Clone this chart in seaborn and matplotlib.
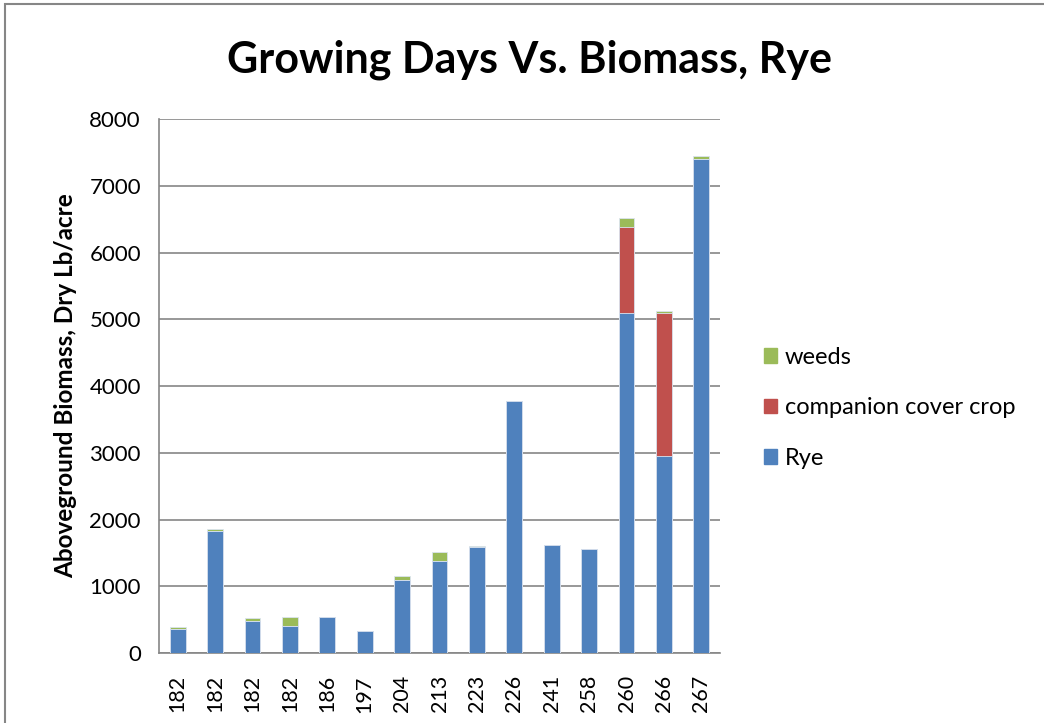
import numpy as np
import pandas as pd
import seaborn as sns
import matplotlib.pyplot as plt
from matplotlib.patches import Patch, Rectangle

days = ["182", "182", "182", "182", "186", "197", "204", "213", "223",
        "226", "241", "258", "260", "266", "267"]
rye = [360, 1833, 479, 409, 534, 334, 1099, 1373, 1588,
       3775, 1618, 1553, 5098, 2951, 7405]
cover = [0, 0, 0, 0, 0, 0, 0, 0, 0, 0, 0, 0, 1284, 2147, 0]
weeds = [25, 20, 45, 135, 0, 0, 49, 135, 15, 0, 0, 0, 130, 21, 40]

df = pd.DataFrame({"pos": np.arange(len(days)), "day": days,
                   "rye": rye, "cover": cover, "weeds": weeds})
df["rye_cover"] = df["rye"] + df["cover"]
df["total"] = df["rye_cover"] + df["weeds"]

blue = "#4F81BD"
red = "#C0504D"
green = "#9BBB59"

sns.set_style("white")
plt.rcParams["font.family"] = ["Lato", "DejaVu Sans"]
plt.rcParams["text.color"] = "black"
plt.rcParams["axes.labelcolor"] = "black"
plt.rcParams["xtick.color"] = "black"
plt.rcParams["ytick.color"] = "black"

fig = plt.figure(figsize=(10.44, 7.23), dpi=100)
ax = fig.add_axes([0.1523, 0.0968, 0.5374, 0.7386])

# layered bars: total (weeds on top), rye+cover, rye
for col, c in [("total", green), ("rye_cover", red), ("rye", blue)]:
    sns.barplot(data=df, x="pos", y=col, color=c, width=0.42, ax=ax,
                edgecolor="#dbe4f0", linewidth=0.6, saturation=1, zorder=3)

ax.set_ylim(0, 8000)
ax.set_xlim(-0.5, len(days) - 0.5)
ax.set_yticks(range(0, 8001, 1000))
ax.yaxis.grid(True, color="#868686", linewidth=1.2, zorder=0)
ax.set_axisbelow(True)

ax.set_xticks(np.arange(len(days)))
ax.set_xticklabels(days, rotation=90, fontsize=15.5)
ax.set_xticks(np.arange(-0.5, len(days)), minor=True)
ax.tick_params(axis="x", which="major", length=0, pad=16)
ax.tick_params(axis="x", which="minor", length=6, color="#868686", width=1.2)
ax.tick_params(axis="y", length=6, color="#868686", width=1.2,
               labelsize=16, labelcolor="black", pad=7)

for s in ["top", "right"]:
    ax.spines[s].set_visible(False)
for s in ["left", "bottom"]:
    ax.spines[s].set_color("#868686")
    ax.spines[s].set_linewidth(1.2)

ax.set_xlabel("")
ax.set_ylabel("Aboveground Biomass, Dry Lb/acre", fontsize=17.5,
              fontweight="bold", labelpad=9)

fig.text(0.507, 0.918, "Growing Days Vs. Biomass, Rye", ha="center",
         va="center", fontsize=31, fontweight="bold")

handles = [Patch(color=green, label="weeds"),
           Patch(color=red, label="companion cover crop"),
           Patch(color=blue, label="Rye")]
fig.legend(handles=handles, loc="center left", bbox_to_anchor=(0.711, 0.436),
           frameon=False, fontsize=17, handlelength=0.55, handleheight=0.55,
           handletextpad=0.35, labelspacing=1.25)

# outer chart border
fig.patches.append(Rectangle((5 / 1044, -0.05), 1.2, 1.05 - 4 / 723,
                             transform=fig.transFigure, fill=False,
                             edgecolor="#868686", linewidth=1.5))

fig.savefig("out.png", dpi=100)
